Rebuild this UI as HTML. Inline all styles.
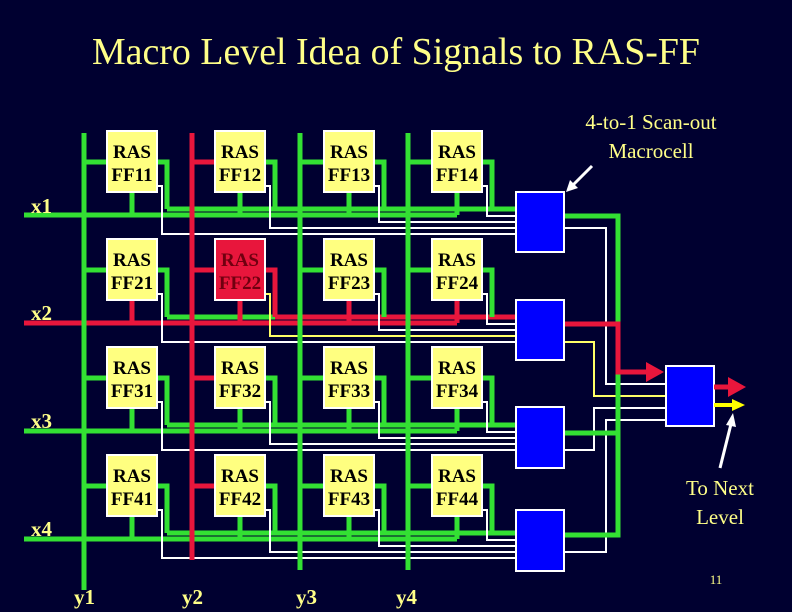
<!DOCTYPE html>
<html><head><meta charset="utf-8"><style>
html,body{margin:0;padding:0;background:#000030;}
svg{display:block}
.g{stroke:#33e033;stroke-width:5;fill:none}
.r{stroke:#e8163c;stroke-width:5;fill:none}
.w{stroke:#fff;stroke-width:2;fill:none}
.y{stroke:#ffff66;stroke-width:2;fill:none}
.bx{fill:#ffff80;stroke:#fff;stroke-width:2}
.mc{fill:#0000ff;stroke:#fff;stroke-width:2}
.ft{font-family:"Liberation Serif",serif;font-size:19px;font-weight:bold;fill:#000;text-anchor:middle}
.lb{font-family:"Liberation Serif",serif;fill:#ffff88}
</style></head><body>
<svg width="792" height="612" viewBox="0 0 792 612" xmlns="http://www.w3.org/2000/svg">
<rect width="792" height="612" fill="#000030"/>
<text class="lb" x="396" y="64" font-size="38" text-anchor="middle" textLength="608" lengthAdjust="spacingAndGlyphs">Macro Level Idea of Signals to RAS-FF</text>
<text class="lb" x="651" y="129" font-size="21" text-anchor="middle">4-to-1 Scan-out</text>
<text class="lb" x="651" y="158" font-size="21" text-anchor="middle">Macrocell</text>
<text class="lb" x="720" y="495" font-size="21" text-anchor="middle">To Next</text>
<text class="lb" x="720" y="524" font-size="21" text-anchor="middle">Level</text>
<text class="lb" x="716" y="584" font-size="13" text-anchor="middle">11</text>

<g transform="translate(0,131)">
<path class="g" d="M24 84H457"/><path class="g" d="M167 78H516"/>
<path class="g" d="M157 31H167V78M265 31H275V78M374 31H384V78M482 31H492V78"/>
<path class="g" d="M132 61V84M240 61V84M349 61V84M457 61V84"/>
<path class="g" d="M84 31H107M300 31H324M408 31H432"/><path class="r" d="M192 31H215"/>
<path class="w" d="M157 55H162V103H516M265 55H270V97H516M374 55H379V91H516M482 55H487V85H516"/>
</g>
<g transform="translate(0,239)">
<path class="r" d="M24 84H457"/><path class="g" d="M167 78H275"/><path class="r" d="M275 78H516"/>
<path class="g" d="M157 31H167V78M374 31H384V78M482 31H492V78"/><path class="r" d="M265 31H275V78"/>
<path class="r" d="M132 61V84M240 61V84M349 61V84M457 61V84"/>
<path class="g" d="M84 31H107M300 31H324M408 31H432"/><path class="r" d="M192 31H215"/>
<path class="w" d="M157 55H162V103H516M374 55H379V91H516M482 55H487V85H516"/><path class="y" d="M265 55H270V97H516"/>
</g>
<g transform="translate(0,347)">
<path class="g" d="M24 84H457"/><path class="g" d="M167 78H516"/>
<path class="g" d="M157 31H167V78M265 31H275V78M374 31H384V78M482 31H492V78"/>
<path class="g" d="M132 61V84M240 61V84M349 61V84M457 61V84"/>
<path class="g" d="M84 31H107M300 31H324M408 31H432"/><path class="r" d="M192 31H215"/>
<path class="w" d="M157 55H162V103H516M265 55H270V97H516M374 55H379V91H516M482 55H487V85H516"/>
</g>
<g transform="translate(0,455)">
<path class="g" d="M24 84H457"/><path class="g" d="M167 78H516"/>
<path class="g" d="M157 31H167V78M265 31H275V78M374 31H384V78M482 31H492V78"/>
<path class="g" d="M132 61V84M240 61V84M349 61V84M457 61V84"/>
<path class="g" d="M84 31H107M300 31H324M408 31H432"/><path class="r" d="M192 31H215"/>
<path class="w" d="M157 55H162V103H516M265 55H270V97H516M374 55H379V91H516M482 55H487V85H516"/>
</g>

<path class="g" d="M84 133V590M300 133V570M408 133V570"/>
<path class="r" d="M192 133V560"/>

<g>
<rect class="bx" x="107" y="131" width="50" height="61"/><rect class="bx" x="215" y="131" width="50" height="61"/><rect class="bx" x="324" y="131" width="50" height="61"/><rect class="bx" x="432" y="131" width="50" height="61"/>
<rect class="bx" x="107" y="239" width="50" height="61"/><rect x="215" y="239" width="50" height="61" fill="#e8163c" stroke="#fff" stroke-width="2"/><rect class="bx" x="324" y="239" width="50" height="61"/><rect class="bx" x="432" y="239" width="50" height="61"/>
<rect class="bx" x="107" y="347" width="50" height="61"/><rect class="bx" x="215" y="347" width="50" height="61"/><rect class="bx" x="324" y="347" width="50" height="61"/><rect class="bx" x="432" y="347" width="50" height="61"/>
<rect class="bx" x="107" y="455" width="50" height="61"/><rect class="bx" x="215" y="455" width="50" height="61"/><rect class="bx" x="324" y="455" width="50" height="61"/><rect class="bx" x="432" y="455" width="50" height="61"/>
</g>
<g class="ft">
<text x="132" y="158">RAS</text><text x="132" y="181">FF11</text>
<text x="240" y="158">RAS</text><text x="240" y="181">FF12</text>
<text x="349" y="158">RAS</text><text x="349" y="181">FF13</text>
<text x="457" y="158">RAS</text><text x="457" y="181">FF14</text>
<text x="132" y="266">RAS</text><text x="132" y="289">FF21</text>
<text x="240" y="266" fill="#700010">RAS</text><text x="240" y="289" fill="#700010">FF22</text>
<text x="349" y="266">RAS</text><text x="349" y="289">FF23</text>
<text x="457" y="266">RAS</text><text x="457" y="289">FF24</text>
<text x="132" y="374">RAS</text><text x="132" y="397">FF31</text>
<text x="240" y="374">RAS</text><text x="240" y="397">FF32</text>
<text x="349" y="374">RAS</text><text x="349" y="397">FF33</text>
<text x="457" y="374">RAS</text><text x="457" y="397">FF34</text>
<text x="132" y="482">RAS</text><text x="132" y="505">FF41</text>
<text x="240" y="482">RAS</text><text x="240" y="505">FF42</text>
<text x="349" y="482">RAS</text><text x="349" y="505">FF43</text>
<text x="457" y="482">RAS</text><text x="457" y="505">FF44</text>
</g>

<g class="lb" font-size="21" font-weight="bold">
<text x="31" y="213">x1</text><text x="31" y="320">x2</text><text x="31" y="428">x3</text><text x="31" y="536">x4</text>
<text x="74" y="604">y1</text><text x="182" y="604">y2</text><text x="296" y="604">y3</text><text x="396" y="604">y4</text>
</g>

<path class="w" d="M564 228H606V384H666"/>
<path class="y" d="M564 342H594V396H666"/>
<path class="w" d="M564 450H594V408H666"/>
<path class="w" d="M564 552H606V420H666"/>
<path class="g" d="M564 216H618V535H564"/>
<path class="g" d="M564 433H618"/>
<path class="r" d="M564 324H618V372H650"/>
<polygon points="646,362 664,372 646,382" fill="#e8163c"/>

<rect class="mc" x="516" y="192" width="48" height="60"/>
<rect class="mc" x="516" y="300" width="48" height="60"/>
<rect class="mc" x="516" y="407" width="48" height="61"/>
<rect class="mc" x="516" y="510" width="48" height="61"/>
<rect class="mc" x="666" y="366" width="48" height="60"/>

<path class="r" d="M714 387H732"/><polygon points="728,377 746,387 728,397" fill="#e8163c"/>
<path d="M714 405H734" stroke="#ffff00" stroke-width="4"/><polygon points="732,399 745,405 732,411" fill="#ffff00"/>

<path d="M592 166L572 186" stroke="#fff" stroke-width="3"/><polygon points="566,192 570,180 578,188" fill="#fff"/>
<path d="M720 468L731 424" stroke="#fff" stroke-width="3"/><polygon points="733,413 736,427 726,425" fill="#fff"/>
</svg>
</body></html>
